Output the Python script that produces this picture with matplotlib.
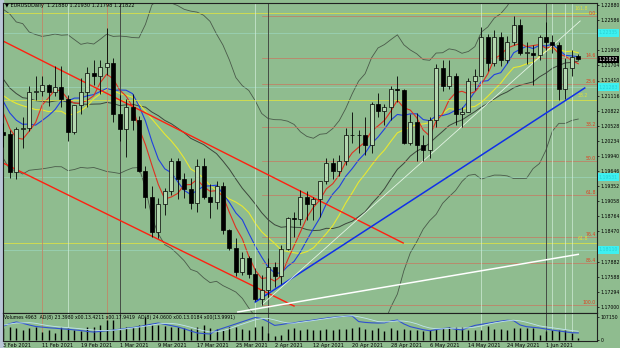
import numpy as np
import pandas as pd
import matplotlib
matplotlib.use("Agg")
import matplotlib.pyplot as plt
from matplotlib.patches import Rectangle

# EURUSD daily, 3 Feb 2021 .. 8 Jun 2021 (index 0 = 3 Feb)
opens = [1.2040, 1.2036, 1.1963, 1.2047, 1.2048, 1.2118, 1.2120, 1.2132, 1.2118, 1.2128,
         1.2105, 1.2040, 1.2093, 1.2119, 1.2155, 1.2150, 1.2167, 1.2175, 1.2075, 1.2046,
         1.2090, 1.2065, 1.1965, 1.1915, 1.1846, 1.1900, 1.1925, 1.1985, 1.1950, 1.1930,
         1.1902, 1.1975, 1.1915, 1.1905, 1.1935, 1.1850, 1.1815, 1.1768, 1.1795, 1.1765,
         1.1716, 1.1733, 1.1778, 1.1760, 1.1812, 1.1873, 1.1872, 1.1915, 1.1900, 1.1910,
         1.1945, 1.1980, 1.1965, 1.1985, 1.2035, 1.2035, 1.2035, 1.2015, 1.2095, 1.2082,
         1.2090, 1.2125, 1.2122, 1.2020, 1.2060, 1.2015, 1.2005, 1.2065, 1.2165, 1.2130,
         1.2150, 1.2075, 1.2080, 1.2140, 1.2150, 1.2225, 1.2175, 1.2225, 1.2180, 1.2215,
         1.2250, 1.2195, 1.2195, 1.2190, 1.2225, 1.2215, 1.2210, 1.2125, 1.2165, 1.2188]
highs = [1.2058, 1.2045, 1.2050, 1.2069, 1.2130, 1.2150, 1.2149, 1.2134, 1.2170, 1.2170,
         1.2112, 1.2094, 1.2145, 1.2168, 1.2180, 1.2180, 1.2243, 1.2185, 1.2113, 1.2105,
         1.2114, 1.2072, 1.1975, 1.1935, 1.1913, 1.1931, 1.1990, 1.1990, 1.1960, 1.1952,
         1.1989, 1.1990, 1.1940, 1.1945, 1.1943, 1.1852, 1.1835, 1.1807, 1.1800, 1.1776,
         1.1762, 1.1795, 1.1788, 1.1820, 1.1875, 1.1885, 1.1928, 1.1925, 1.1915, 1.1945,
         1.1990, 1.1990, 1.1995, 1.2048, 1.2080, 1.2045, 1.2070, 1.2100, 1.2117, 1.2095,
         1.2130, 1.2150, 1.2125, 1.2075, 1.2077, 1.2035, 1.2070, 1.2173, 1.2181, 1.2180,
         1.2155, 1.2090, 1.2145, 1.2163, 1.2245, 1.2232, 1.2240, 1.2235, 1.2228, 1.2266,
         1.2260, 1.2215, 1.2210, 1.2230, 1.2254, 1.2230, 1.2215, 1.2185, 1.2200, 1.2193]
lows = [1.2011, 1.1952, 1.1950, 1.2010, 1.2042, 1.2104, 1.2110, 1.2092, 1.2110, 1.2090,
        1.2023, 1.2036, 1.2076, 1.2090, 1.2133, 1.2115, 1.2152, 1.2060, 1.2024, 1.1992,
        1.2045, 1.1963, 1.1893, 1.1836, 1.1835, 1.1880, 1.1918, 1.1910, 1.1912, 1.1890,
        1.1884, 1.1910, 1.1873, 1.1890, 1.1843, 1.1810, 1.1760, 1.1762, 1.1756, 1.1712,
        1.1704, 1.1720, 1.1738, 1.1745, 1.1810, 1.1836, 1.1860, 1.1869, 1.1870, 1.1875,
        1.1940, 1.1950, 1.1955, 1.1977, 1.2020, 1.2000, 1.1995, 1.2000, 1.2070, 1.2055,
        1.2065, 1.2100, 1.2018, 1.2015, 1.1985, 1.1985, 1.1990, 1.2050, 1.2120, 1.2125,
        1.2055, 1.2050, 1.2080, 1.2123, 1.2150, 1.2160, 1.2170, 1.2170, 1.2175, 1.2210,
        1.2190, 1.2173, 1.2133, 1.2180, 1.2200, 1.2195, 1.2103, 1.2105, 1.2150, 1.2180]
closes = [1.2035, 1.1963, 1.2047, 1.2048, 1.2118, 1.2120, 1.2132, 1.2118, 1.2128, 1.2105,
          1.2040, 1.2093, 1.2119, 1.2155, 1.2150, 1.2167, 1.2175, 1.2075, 1.2046, 1.2090,
          1.2065, 1.1965, 1.1915, 1.1846, 1.1900, 1.1925, 1.1985, 1.1950, 1.1930, 1.1902,
          1.1975, 1.1915, 1.1905, 1.1935, 1.1850, 1.1815, 1.1768, 1.1795, 1.1765, 1.1716,
          1.1733, 1.1778, 1.1760, 1.1812, 1.1873, 1.1872, 1.1915, 1.1900, 1.1910, 1.1945,
          1.1980, 1.1965, 1.1985, 1.2035, 1.2035, 1.2035, 1.2015, 1.2095, 1.2082, 1.2090,
          1.2125, 1.2122, 1.2020, 1.2060, 1.2015, 1.2005, 1.2065, 1.2165, 1.2130, 1.2150,
          1.2075, 1.2080, 1.2140, 1.2150, 1.2225, 1.2175, 1.2225, 1.2180, 1.2215, 1.2250,
          1.2195, 1.2195, 1.2190, 1.2225, 1.2215, 1.2210, 1.2125, 1.2165, 1.2186, 1.21822]
# closes before the visible window (needed for the moving averages)
pre_closes = [1.2297, 1.2325, 1.2271, 1.2220, 1.2151, 1.2207, 1.2156, 1.2155, 1.2079, 1.2077,
              1.2131, 1.2107, 1.2165, 1.2170, 1.2141, 1.2160, 1.2112, 1.2115, 1.2136, 1.2061,
              1.2041]

# tick volume (thousands) and the blue indicator line of the volume window
volumes = [55, 62, 55, 47, 55, 59, 39, 47, 31, 59, 55, 47, 43, 62, 59, 70, 93, 93, 47, 62,
           62, 70, 106, 70, 70, 65, 59, 59, 55, 50, 59, 70, 56, 51, 47, 59, 61, 51, 47, 61,
           65, 33, 19, 23, 51, 56, 47, 51, 47, 47, 51, 47, 51, 51, 56, 61, 51, 47, 56, 42,
           56, 47, 51, 47, 45, 41, 45, 51, 56, 61, 59, 61, 45, 47, 47, 65, 51, 51, 47, 55,
           55, 55, 55, 23, 41, 45, 45, 48, 33, 9]
vol_line = [65, 76, 84, 78, 70, 63, 60, 57, 55, 52, 50, 47, 44, 40, 37, 40, 43, 46, 50, 54,
            58, 62, 68, 74, 79, 73, 67, 61, 52, 42, 33, 30, 28, 45, 55, 65, 75, 85, 95, 105,
            100, 85, 68, 72, 77, 80, 85, 89, 93, 98, 102, 106, 108, 111, 112, 86, 82, 80, 79, 80,
            88, 93, 75, 62, 55, 48, 43, 48, 53, 56, 50, 47, 58, 68, 73, 78, 83, 88, 92, 90,
            70, 62, 59, 56, 51, 46, 42, 38, 34, 33]

date_labels = ["3 Feb 2021", "11 Feb 2021", "19 Feb 2021", "1 Mar 2021", "9 Mar 2021",
               "17 Mar 2021", "25 Mar 2021", "2 Apr 2021", "12 Apr 2021", "20 Apr 2021",
               "28 Apr 2021", "6 May 2021", "14 May 2021", "24 May 2021", "1 Jun 2021"]

fib_red = ["0.0", "14.6", "23.6", "38.2", "50.0", "61.8", "76.4", "85.4", "100.0"]
fib_high, fib_low, fib_start = 1.22660, 1.17040, 40
yellow_levels = [1.22724, 1.21030, 1.18246]
yellow_labels = ["161.8", "38.2", "61.8"]
cyan_levels = [1.22335, 1.21283, 1.19531, 1.18110]
vlines_brown = [6, 16]
vlines_dark = [18, 41, 84]
vlines_light = [10, 39, 74, 85, 87, 88]

bg = "#8fbc8f"
W, H = 620, 348
FS = 3.3


def frac(x0, y0, x1, y1):
    return [x0 / W, 1 - y1 / H, (x1 - x0) / W, (y1 - y0) / H]


fig = plt.figure(figsize=(6.2, 3.48), dpi=100, facecolor=bg)
ax = fig.add_axes(frac(3, 3, 597, 313), facecolor=bg)
axv = fig.add_axes(frac(3, 313, 597, 341), facecolor=bg, sharex=ax)
fig.patches.append(Rectangle((0, 0), 3 / W, 1, transform=fig.transFigure,
                             color="#b9c6d6", zorder=-5))

n = len(closes)
idx = np.arange(n)
o, h, l, c = map(np.array, (opens, highs, lows, closes))

# indicators
allc = pd.Series(pre_closes + closes)
k = len(pre_closes)
sma = lambda p: allc.rolling(p).mean().values[k:]
mid = sma(20)
sd = allc.rolling(20).std(ddof=0).values[k:]
ax.plot(idx, mid + 2.5 * sd, color="#4a5a4a", lw=0.6)
ax.plot(idx, mid - 2.5 * sd, color="#4a5a4a", lw=0.6)
ax.plot(idx, sma(21), color="#3c463c", lw=0.7)
ax.plot(idx, sma(13), color="#e8e830", lw=0.8)
ax.plot(idx, sma(8), color="#2040e0", lw=0.8)
ax.plot(idx, sma(5), color="#e03020", lw=0.8)

# horizontal levels
ytr = ax.get_yaxis_transform()
for lv in cyan_levels:
    ax.axhline(lv, color="#a0e0d0", lw=0.5, alpha=0.7)
for lv, lab in zip(yellow_levels, yellow_labels):
    ax.axhline(lv, color="#d8e048", lw=0.6)
    ax.annotate(lab, (0.985, lv), xycoords=ytr, xytext=(0, 1.5), textcoords="offset points",
                ha="right", va="bottom", fontsize=FS, color="#e0e040")
for lab in fib_red:
    lv = fib_high - (fib_high - fib_low) * float(lab) / 100
    ax.plot([fib_start, 92], [lv, lv], color="#c87860", lw=0.5)
    ax.text(0.998, lv, lab, transform=ytr, ha="right", va="bottom",
            fontsize=FS, color="#e04020")

# vertical lines
for a in (ax, axv):
    for v in vlines_brown:
        a.axvline(v, color="#c08868", lw=0.6)
    for v in vlines_dark:
        a.axvline(v, color="#3a3a3a", lw=0.6)
    for v in vlines_light:
        a.axvline(v, color="#d0ecd8", lw=0.5)

# trend lines
ax.plot([-0.05, 61.9], [1.22179, 1.18246], color="#ff2010", lw=1.0)
ax.plot([-0.05, 45.0], [1.19804, 1.17019], color="#ff2010", lw=1.0)
ax.plot([39.0, 90.0], [1.17097, 1.21264], color="#1030e8", lw=1.1)
ax.plot([40.0, 89.3], [1.17040, 1.22569], color="#e4f4e4", lw=0.6)
ax.plot([36.3, 89.0], [1.16903, 1.18025], color="#ffffff", lw=1.1)

# candles
ax.vlines(idx, l, h, color="black", lw=0.6, zorder=4)
up = c >= o
body = np.maximum(np.abs(c - o), 0.00008)
ax.bar(idx[up], body[up], bottom=o[up], width=0.62, facecolor="#b4d8b0",
       edgecolor="black", lw=0.5, zorder=5)
ax.bar(idx[~up], body[~up], bottom=c[~up], width=0.62, facecolor="black",
       edgecolor="black", lw=0.5, zorder=5)

# volume window
axv.vlines(idx, 0, volumes, color="black", lw=1.0)
axv.plot(idx, vol_line, color="#3050d0", lw=0.8)
axv.plot(idx, pd.Series(vol_line).rolling(4, min_periods=1).mean() + 4, color="#c0e4f0", lw=0.6)
axv.set_ylim(-4.7, 125.8)
axv.set_yticks([0, 107.15])
axv.set_yticklabels(["0", "107150"])
axv.text(0.002, 0.93, "Volumes 4963  AD(8) 23.3980 x00.13.4211 x00.17.9419  AD(8) 24.0600 "
         "x00.13.0184 x00(13.9991)", transform=axv.transAxes, fontsize=FS, va="top")

# price axis: hide the tick texts that the coloured price boxes cover
ax.set_xlim(-0.05, 91.9)
ax.set_ylim(1.16883, 1.22919)
levels = [1.17 + 0.00294 * i for i in range(21)]
boxes = cyan_levels + [closes[-1]]
ax.set_yticks(levels)
ax.set_yticklabels(["" if min(abs(v - b) for b in boxes) < 0.0009 else "%.5f" % v
                    for v in levels])
for a in (ax, axv):
    a.yaxis.tick_right()
    a.tick_params(axis="y", labelsize=FS, length=1.5, width=0.5, pad=1, colors="black")
    for s in a.spines.values():
        s.set_color("#202020")
        s.set_linewidth(0.8)
ax.tick_params(axis="x", bottom=False, labelbottom=False)
axv.set_xticks(range(0, 85, 6))
axv.set_xticklabels(date_labels, ha="left")
axv.tick_params(axis="x", labelsize=FS + 0.3, length=0, pad=1.5)

last = closes[-1]
ax.text(1.003, last, "%.5f" % last, transform=ytr, fontsize=FS,
        color="white", va="center", ha="left",
        bbox=dict(facecolor="black", edgecolor="none", pad=0.6))
for lv in cyan_levels:
    ax.text(1.003, lv, "%.5f" % lv, transform=ytr, fontsize=FS,
            color="#28d0d4", va="center", ha="left",
            bbox=dict(facecolor="#3ef0f0", edgecolor="none", pad=0.8))

fig.text(5 / W, 1 - 6 / H, "\u25bc EURUSDDaily  1.21880 1.21930 1.21798 1.21822",
         fontsize=FS + 0.3, va="center")

fig.savefig("out.png", dpi=100, facecolor=bg)
